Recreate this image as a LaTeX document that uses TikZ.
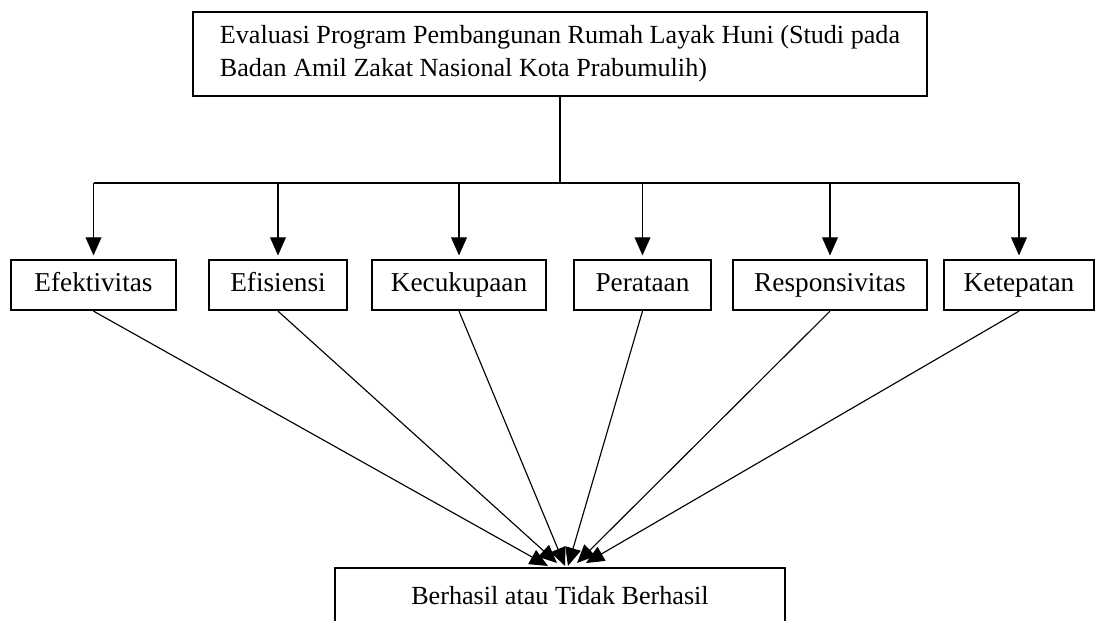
\documentclass[tikz,border=0pt]{standalone}
\usepackage{fontspec}
\setmainfont{Liberation Serif}
\usetikzlibrary{arrows.meta}
\tikzset{
	box/.style={draw, line width=1pt, inner sep=0pt, font=\fontsize{11.5}{14.5}\selectfont},
	critbox/.style={box, minimum height=22pt, text height=8.5pt, text depth=2.5pt, font=\fontsize{12}{14.5}\selectfont},
	link/.style={line width=0.5pt},
	tip/.style={link, -{Triangle[length=8pt,width=7pt]}}
}
\newcommand{\crit}[4] % name, x centre in px, width in pt, label
{
	\node[critbox, minimum width=#3] (#1) at (#2,285) {#4};
}
\begin{document}
\begin{tikzpicture}[x=0.44pt, y=-0.44pt]
	% page 1097 x 621 px
	\useasboundingbox (0,0) rectangle (1097,621);
	% title
	\node[box, minimum width=323pt, minimum height=37pt, align=left] (judul) at (560,54)
		{Evaluasi Program Pembangunan Rumah Layak Huni (Studi pada\\Badan Amil Zakat Nasional Kota Prabumulih)\hspace*{\fill}};
	% criteria
	\crit{efektif}{93.5}{72.6pt}{Efektivitas};
	\crit{efisien}{278}{60.7pt}{Efisiensi};
	\crit{cukup}{459}{76.6pt}{Kecukupaan};
	\crit{rata}{642.5}{60.3pt}{Perataan};
	\crit{respon}{830}{85.4pt}{Responsivitas};
	\crit{tepat}{1019}{66pt}{Ketepatan};
	% branching
	\coordinate (cabang) at (560,183);
	\draw[link] (judul.south) -- (cabang);
	\draw[link] (cabang -| efektif.north) -- (cabang -| tepat.north);
	\foreach \n in {efektif,efisien,cukup,rata,respon,tepat}
		\draw[tip, shorten >=1.5pt] (cabang -| \n.north) -- (\n.north);
	% result, open at the bottom of the page
	\node[box, draw=none, minimum width=197pt, minimum height=23.3pt, anchor=north] (hasil) at (560,568)
		{Berhasil atau Tidak Berhasil};
	\draw[line width=1pt] (hasil.south west) -- (hasil.north west) -- (hasil.north east) -- (hasil.south east);
	% converging arrows
	\draw[tip] (efektif.south) -- ([xshift=-5.3pt,yshift=0.9pt]hasil.north);
	\draw[tip] (efisien.south) -- ([xshift=-1.3pt,yshift=2.2pt]hasil.north);
	\draw[tip] (cukup.south) -- ([xshift=2.2pt,yshift=0.9pt]hasil.north);
	\draw[tip] (rata.south) -- ([xshift=3.5pt,yshift=0.9pt]hasil.north);
	\draw[tip] (respon.south) -- ([xshift=7.5pt,yshift=2.2pt]hasil.north);
	\draw[tip] (tepat.south) -- ([xshift=11.4pt,yshift=2.2pt]hasil.north);
\end{tikzpicture}
\end{document}
